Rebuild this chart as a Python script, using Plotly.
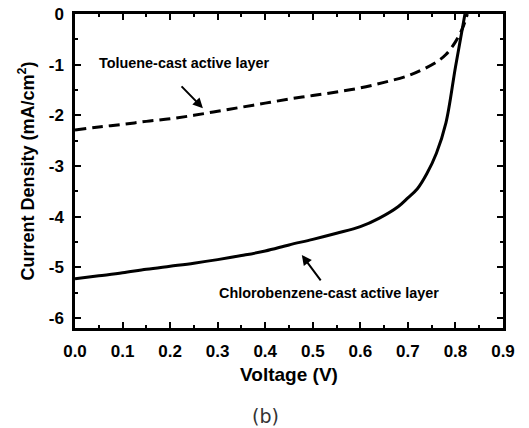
import plotly.graph_objects as go

# Data
v_chloro = [0, 0.05, 0.1, 0.15, 0.2, 0.25, 0.3, 0.35, 0.4, 0.45, 0.5, 0.55, 0.6,
            0.64, 0.68, 0.7, 0.72, 0.74, 0.76, 0.78, 0.8, 0.82]
j_chloro = [-5.23, -5.17, -5.11, -5.04, -4.98, -4.92, -4.85, -4.77, -4.68, -4.56,
            -4.45, -4.33, -4.2, -4.03, -3.8, -3.63, -3.45, -3.15, -2.75, -2.15,
            -1.05, 0.0]

v_toluene = [0, 0.05, 0.1, 0.15, 0.2, 0.25, 0.3, 0.35, 0.4, 0.45, 0.5, 0.55, 0.6,
             0.65, 0.7, 0.73, 0.76, 0.78, 0.8, 0.815, 0.825]
j_toluene = [-2.29, -2.23, -2.18, -2.12, -2.07, -2.0, -1.92, -1.84, -1.76, -1.68,
             -1.61, -1.54, -1.46, -1.35, -1.22, -1.1, -0.95, -0.8, -0.55, -0.28, 0.0]

x_ticks = [0.0, 0.1, 0.2, 0.3, 0.4, 0.5, 0.6, 0.7, 0.8, 0.9]
x_tick_labels = ["0.0", "0.1", "0.2", "0.3", "0.4", "0.5", "0.6", "0.7", "0.8", "0.9"]
y_ticks = [0, -1, -2, -3, -4, -5, -6]
y_tick_labels = ["0", "-1", "-2", "-3", "-4", "-5", "-6"]

label_toluene = "Toluene-cast active layer"
label_chloro = "Chlorobenzene-cast active layer"

FONT = "Liberation Sans, Arial, sans-serif"

fig = go.Figure()
fig.add_trace(go.Scatter(x=v_toluene, y=j_toluene, mode="lines",
                         line=dict(color="black", width=3, dash="11px,6px"),
                         line_shape="spline", showlegend=False))
fig.add_trace(go.Scatter(x=v_chloro, y=j_chloro, mode="lines",
                         line=dict(color="black", width=3),
                         line_shape="spline", showlegend=False))

axis_common = dict(
    showline=True, linecolor="black", linewidth=2.5, mirror="allticks",
    ticks="inside", ticklen=6, tickwidth=2, tickcolor="black",
    showgrid=False, zeroline=False, automargin=False,
    tickfont=dict(family=FONT, size=17, color="black", weight="bold"),
)

fig.update_xaxes(range=[0, 0.9], tickvals=x_ticks, ticktext=x_tick_labels,
                 ticklabelstandoff=6,
                 minor=dict(ticks="inside", ticklen=3, tickwidth=2, dtick=0.05,
                            tickcolor="black"),
                 title=dict(text="Voltage (V)", standoff=8,
                            font=dict(family=FONT, size=19, color="black", weight="bold")),
                 **axis_common)
fig.update_yaxes(range=[-6.2, 0], tickvals=y_ticks, ticktext=y_tick_labels,
                 ticklabelstandoff=5,
                 minor=dict(ticks="inside", ticklen=3, tickwidth=2, dtick=0.5,
                            tickcolor="black"),
                 title=dict(text="Current Density (mA/cm<sup>2</sup>)", standoff=10,
                            font=dict(family=FONT, size=18, color="black", weight="bold")),
                 **axis_common)

# Arrows
fig.add_annotation(x=0.269, y=-1.86, ax=0.221, ay=-1.40, xref="x", yref="y",
                   axref="x", ayref="y", text="", showarrow=True,
                   arrowhead=2, arrowsize=1, arrowwidth=2, arrowcolor="black")
fig.add_annotation(x=0.477, y=-4.76, ax=0.519, ay=-5.29, xref="x", yref="y",
                   axref="x", ayref="y", text="", showarrow=True,
                   arrowhead=2, arrowsize=1, arrowwidth=2, arrowcolor="black")
# Labels
fig.add_annotation(x=0.231, y=-0.97, xref="x", yref="y", text=label_toluene,
                   showarrow=False,
                   font=dict(family=FONT, size=14.4, color="black", weight="bold"))
fig.add_annotation(x=0.534, y=-5.51, xref="x", yref="y", text=label_chloro,
                   showarrow=False,
                   font=dict(family=FONT, size=14.4, color="black", weight="bold"))
# Panel label
fig.add_annotation(x=0.445, y=-0.28, xref="paper", yref="paper", text="(b)",
                   xanchor="center", yanchor="middle", showarrow=False,
                   font=dict(family="DejaVu Sans, sans-serif", size=19, color="#333"))

fig.update_layout(width=529, height=428,
                  margin=dict(l=75, r=26, t=14, b=100),
                  paper_bgcolor="white", plot_bgcolor="white")

fig.write_html("out.html")
